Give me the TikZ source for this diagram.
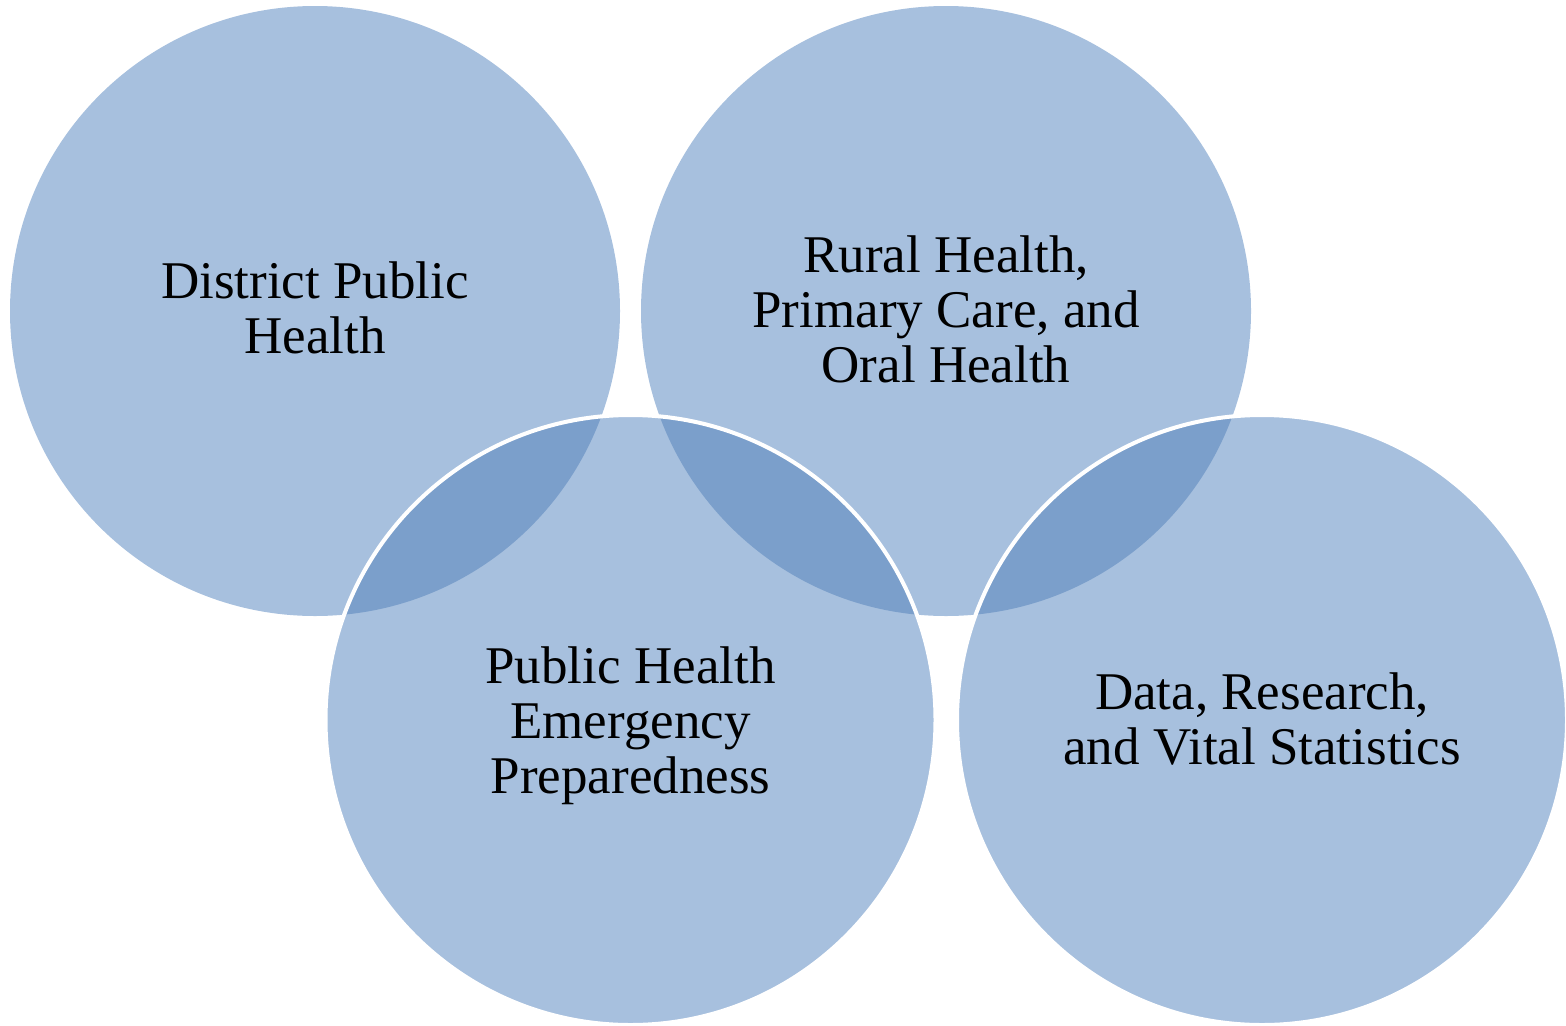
\documentclass[tikz,border=0pt]{standalone}
\usepackage{fontspec}
\setmainfont{Liberation Serif}
\definecolor{vennlight}{HTML}{A7C0DE}
\definecolor{venndark}{HTML}{7B9FCB}
\tikzset{
  venntext/.style={align=center, anchor=base, inner sep=0pt, font=\fontsize{53bp}{55bp}\selectfont, text=black},
}
\begin{document}
\begin{tikzpicture}[x=1bp,y=-1bp]
\useasboundingbox (0,0) rectangle (1566,1025);
% centers
\coordinate (c1) at (315,311);
\coordinate (c2) at (946,311);
\coordinate (c3) at (630.5,720);
\coordinate (c4) at (1262,720);
\def\vr{305}
% base fills
\foreach \c in {c1,c2,c3,c4}
  \fill[vennlight] (\c) circle[radius=\vr];
% overlap lenses
\begin{scope}
  \clip (c3) circle[radius=\vr];
  \fill[venndark] (c1) circle[radius=\vr];
  \fill[venndark] (c2) circle[radius=\vr];
\end{scope}
\begin{scope}
  \clip (c4) circle[radius=\vr];
  \fill[venndark] (c2) circle[radius=\vr];
\end{scope}
% white outlines of the lower circles
\draw[white, line width=4bp] (c3) circle[radius=\vr];
\draw[white, line width=4bp] (c4) circle[radius=\vr];
% labels (anchor base = baseline of the last line)
\node[venntext] (t1) at (315,353) {District Public\\Health};
\node[venntext] (t2) at (946,382) {Rural Health,\\Primary Care, and\\Oral Health};
\node[venntext] (t3) at (630.5,793) {Public Health\\Emergency\\Preparedness};
\node[venntext] (t4) at (1262,764) {Data, Research,\\and Vital Statistics};
\end{tikzpicture}
\end{document}
